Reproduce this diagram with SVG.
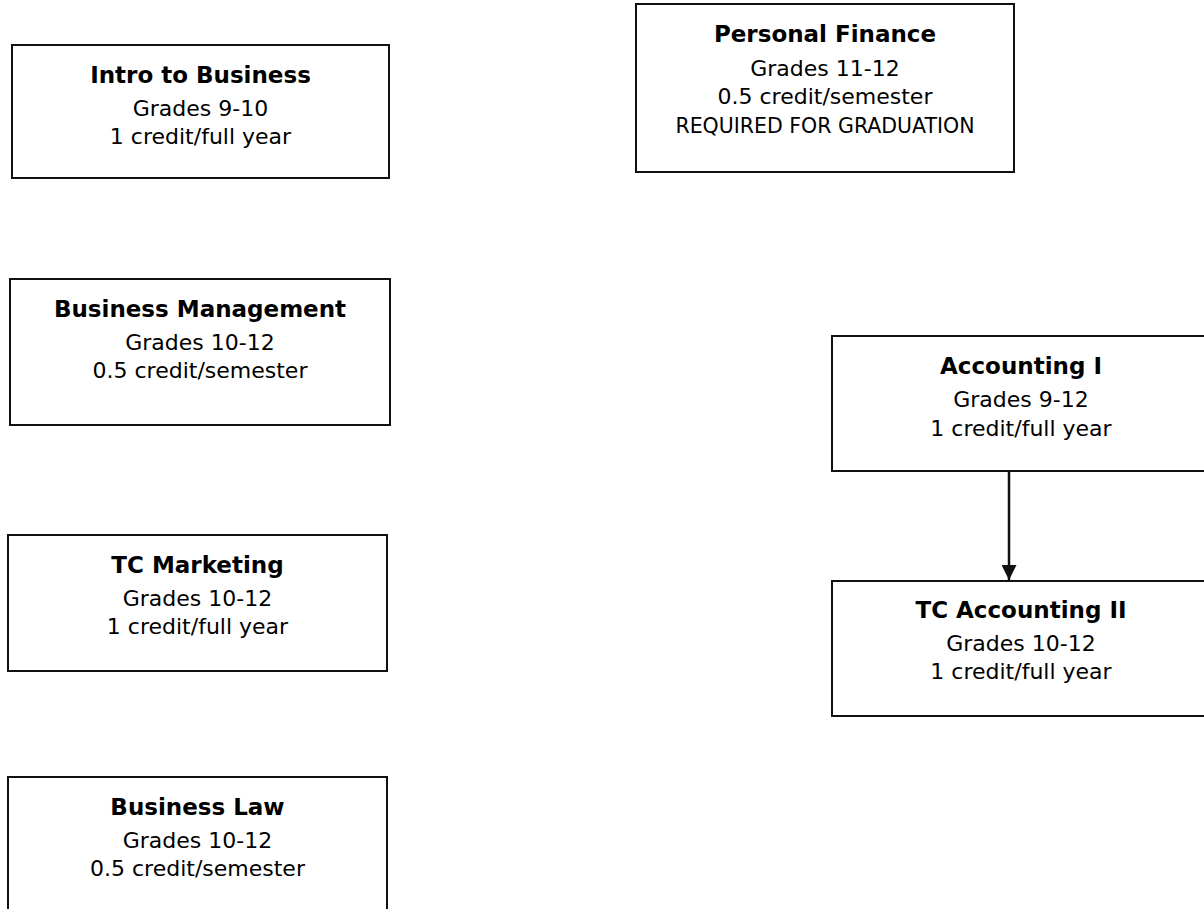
<svg xmlns="http://www.w3.org/2000/svg" width="1204" height="909" viewBox="0 0 1204 909">
<defs>
<style>
.box{fill:#fff;stroke:#111;stroke-width:2}
.t{font-family:"DejaVu Sans",Verdana,sans-serif;font-size:23px;font-weight:bold;fill:#000;text-anchor:middle}
.s{font-family:"DejaVu Sans",Verdana,sans-serif;font-size:22px;fill:#000;text-anchor:middle}
.r{font-family:"DejaVu Sans",Verdana,sans-serif;font-size:20.5px;fill:#000;text-anchor:middle}
.edge{stroke:#111;stroke-width:2.5;fill:none}
</style>
<marker id="arr" viewBox="0 0 10 10" refX="10" refY="5" markerWidth="6" markerHeight="6" markerUnits="strokeWidth" orient="auto">
<path d="M0,0 L10,5 L0,10 z" fill="#111"/>
</marker>
</defs>
<rect width="1204" height="909" fill="#fff"/>
<g id="intro-business">
<rect class="box" x="12" y="45" width="377" height="133"/>
<text class="t" x="200.5" y="83">Intro to Business</text>
<text class="s" x="200.5" y="116">Grades 9-10</text>
<text class="s" x="200.5" y="144">1 credit/full year</text>
</g>
<g id="personal-finance">
<rect class="box" x="636" y="4" width="378" height="168"/>
<text class="t" x="825" y="42">Personal Finance</text>
<text class="s" x="825" y="76">Grades 11-12</text>
<text class="s" x="825" y="104">0.5 credit/semester</text>
<text class="r" x="825" y="133">REQUIRED FOR GRADUATION</text>
</g>
<g id="business-management">
<rect class="box" x="10" y="279" width="380" height="146"/>
<text class="t" x="200" y="317">Business Management</text>
<text class="s" x="200" y="350">Grades 10-12</text>
<text class="s" x="200" y="378">0.5 credit/semester</text>
</g>
<g id="tc-marketing">
<rect class="box" x="8" y="535" width="379" height="136"/>
<text class="t" x="197.5" y="573">TC Marketing</text>
<text class="s" x="197.5" y="606">Grades 10-12</text>
<text class="s" x="197.5" y="634">1 credit/full year</text>
</g>
<g id="business-law">
<rect class="box" x="8" y="777" width="379" height="150"/>
<text class="t" x="197.5" y="815">Business Law</text>
<text class="s" x="197.5" y="848">Grades 10-12</text>
<text class="s" x="197.5" y="876">0.5 credit/semester</text>
</g>
<g id="accounting-1">
<rect class="box" x="832" y="336" width="380" height="135"/>
<text class="t" x="1021" y="374">Accounting I</text>
<text class="s" x="1021" y="407">Grades 9-12</text>
<text class="s" x="1021" y="436">1 credit/full year</text>
</g>
<g id="tc-accounting-2">
<rect class="box" x="832" y="581" width="380" height="135"/>
<text class="t" x="1021" y="618">TC Accounting II</text>
<text class="s" x="1021" y="651">Grades 10-12</text>
<text class="s" x="1021" y="679">1 credit/full year</text>
</g>
<g id="connectors">
<line class="edge" x1="1009" y1="471" x2="1009" y2="580" marker-end="url(#arr)"/>
</g>
</svg>
